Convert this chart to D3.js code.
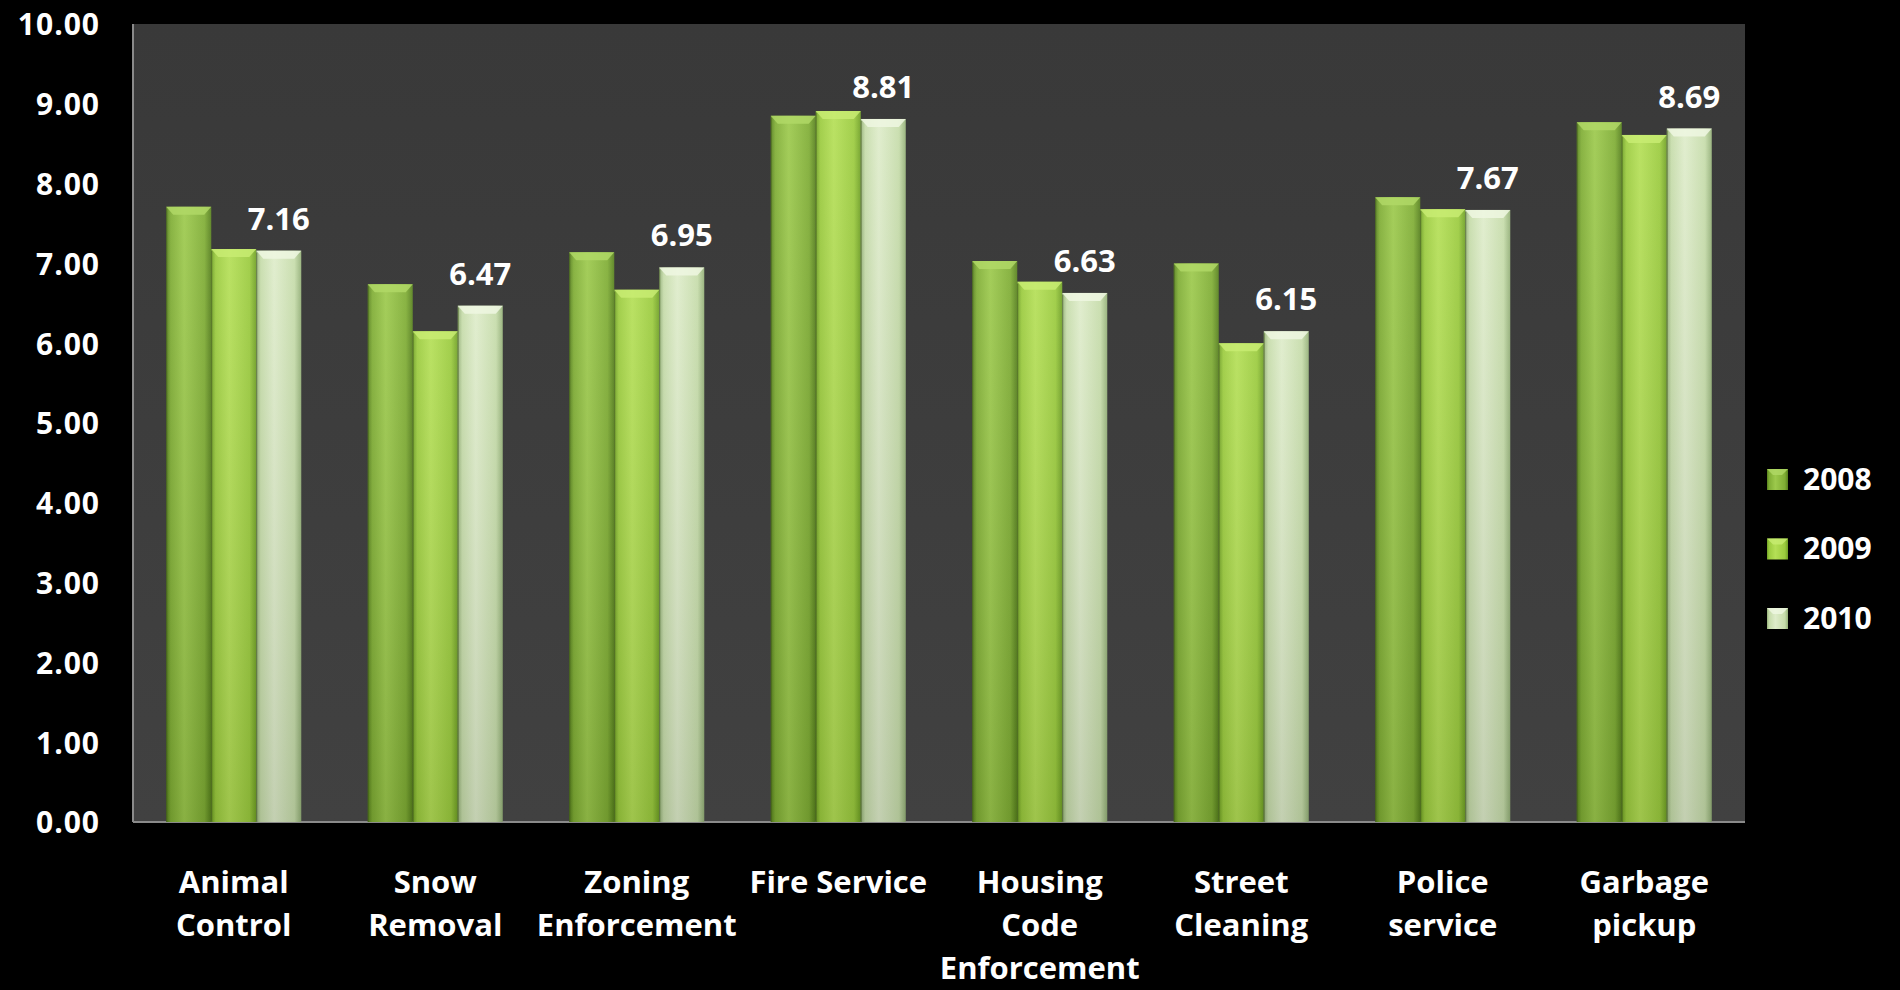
<!DOCTYPE html>
<html>
<head>
<meta charset="utf-8">
<script src="https://cdn.jsdelivr.net/npm/d3@7"></script>
<style>
  html, body { margin: 0; padding: 0; background: #000; }
  svg { display: block; }
  text { font-family: "Open Sans", "Lato", sans-serif; font-weight: 700; fill: #ffffff; }
</style>
</head>
<body>
<svg id="chart" width="1900" height="990"></svg>
<script>
// ---------- data ----------
const categories = [
  "Animal\nControl",
  "Snow\nRemoval",
  "Zoning\nEnforcement",
  "Fire Service",
  "Housing\nCode\nEnforcement",
  "Street\nCleaning",
  "Police\nservice",
  "Garbage\npickup"
];
const seriesNames = ["2008", "2009", "2010"];
const values2008 = [7.71, 6.74, 7.14, 8.85, 7.03, 7.00, 7.83, 8.77];
const values2009 = [7.18, 6.15, 6.67, 8.91, 6.77, 6.00, 7.68, 8.61];
const values2010 = [7.16, 6.47, 6.95, 8.81, 6.63, 6.15, 7.67, 8.69];
const yTicks = [0, 1, 2, 3, 4, 5, 6, 7, 8, 9, 10];
const labeledSeries = "2010";

// ---------- layout ----------
const svg = d3.select("#chart");
const plot = { left: 133, top: 24, right: 1745, bottom: 822 };

const x0 = d3.scaleBand()
  .domain(categories)
  .range([plot.left, plot.right])
  .paddingInner(0.33)
  .paddingOuter(0.165);
const x1 = d3.scaleBand()
  .domain(seriesNames)
  .range([0, x0.bandwidth()])
  .padding(0);
const y = d3.scaleLinear().domain([0, 10]).range([plot.bottom, plot.top]);

const seriesValues = { "2008": values2008, "2009": values2009, "2010": values2010 };
const palette = {
  "2008": { edge: "#56801c", mid: "#7fad34", hi: "#9cc94c", cap: "#b0d866" },
  "2009": { edge: "#6fa024", mid: "#9bcb3e", hi: "#b4df56", cap: "#c8ec72" },
  "2010": { edge: "#94b078", mid: "#c6dcaa", hi: "#deecca", cap: "#eff7e2" }
};

// ---------- gradients ----------
const defs = svg.append("defs");
seriesNames.forEach(s => {
  const c = palette[s];
  const g = defs.append("linearGradient").attr("id", "g" + s)
    .attr("x1", "0%").attr("x2", "100%").attr("y1", "0%").attr("y2", "0%");
  g.append("stop").attr("offset", "0%").attr("stop-color", c.edge);
  g.append("stop").attr("offset", "10%").attr("stop-color", c.mid);
  g.append("stop").attr("offset", "40%").attr("stop-color", c.hi);
  g.append("stop").attr("offset", "85%").attr("stop-color", c.mid);
  g.append("stop").attr("offset", "100%").attr("stop-color", c.edge);
});
const shade = defs.append("linearGradient").attr("id", "vshade")
  .attr("x1", "0%").attr("x2", "0%").attr("y1", "0%").attr("y2", "100%");
shade.append("stop").attr("offset", "0%").attr("stop-color", "#ffffff").attr("stop-opacity", 0.08);
shade.append("stop").attr("offset", "100%").attr("stop-color", "#000000").attr("stop-opacity", 0.12);

const bg = defs.append("linearGradient").attr("id", "bgGrad")
  .attr("x1", "0%").attr("x2", "0%").attr("y1", "0%").attr("y2", "100%");
bg.append("stop").attr("offset", "0%").attr("stop-color", "#393939");
bg.append("stop").attr("offset", "100%").attr("stop-color", "#414141");

// ---------- plot area ----------
svg.append("rect")
  .attr("x", plot.left).attr("y", plot.top)
  .attr("width", plot.right - plot.left).attr("height", plot.bottom - plot.top)
  .attr("fill", "url(#bgGrad)");
svg.append("line")
  .attr("x1", plot.left).attr("x2", plot.left)
  .attr("y1", plot.top).attr("y2", plot.bottom)
  .attr("stroke", "#8a8a8a").attr("stroke-width", 2);
svg.append("line")
  .attr("x1", plot.left).attr("x2", plot.right)
  .attr("y1", plot.bottom).attr("y2", plot.bottom)
  .attr("stroke", "#8a8a8a").attr("stroke-width", 2);

// ---------- bars ----------
const groups = svg.append("g").selectAll("g")
  .data(categories)
  .join("g")
  .attr("transform", d => `translate(${x0(d)},0)`);

const barData = (cat, i) => seriesNames.map(s => ({ s, v: seriesValues[s][i] }));

groups.each(function (cat, i) {
  const g = d3.select(this);
  const data = barData(cat, i);
  const bw = x1.bandwidth();

  g.selectAll("rect.bar").data(data).join("rect")
    .attr("class", "bar")
    .attr("x", d => x1(d.s))
    .attr("y", d => y(d.v))
    .attr("width", bw)
    .attr("height", d => y(0) - y(d.v))
    .attr("fill", d => "url(#g" + d.s + ")");

  g.selectAll("rect.shade").data(data).join("rect")
    .attr("class", "shade")
    .attr("x", d => x1(d.s))
    .attr("y", d => y(d.v))
    .attr("width", bw)
    .attr("height", d => y(0) - y(d.v))
    .attr("fill", "url(#vshade)");

  // beveled top cap
  const bev = 8, inset = 7;
  g.selectAll("path.cap").data(data).join("path")
    .attr("class", "cap")
    .attr("d", d => {
      const xa = x1(d.s), xb = xa + bw, yt = y(d.v);
      return `M${xa},${yt}L${xb},${yt}L${xb - inset},${yt + bev}L${xa + inset},${yt + bev}Z`;
    })
    .attr("fill", d => palette[d.s].cap)
    .attr("opacity", 0.85);

  // thin dark separators
  g.selectAll("line.sep").data(data).join("line")
    .attr("class", "sep")
    .attr("x1", d => x1(d.s) + 0.5).attr("x2", d => x1(d.s) + 0.5)
    .attr("y1", d => y(d.v) + 2).attr("y2", y(0))
    .attr("stroke", "#3f5a1a").attr("stroke-opacity", 0.55).attr("stroke-width", 1);

  // value labels on 2010 only
  g.selectAll("text.val").data(data.filter(d => d.s === labeledSeries)).join("text")
    .attr("class", "val")
    .attr("x", d => x1(d.s) + bw / 2)
    .attr("y", d => y(d.v) - 21)
    .attr("text-anchor", "middle")
    .attr("font-size", 31)
    .text(d => d3.format(".2f")(d.v));
});

// ---------- y axis ----------
const yAxis = svg.append("g")
  .attr("transform", `translate(${plot.left},0)`)
  .call(d3.axisLeft(y).tickValues(yTicks).tickFormat(d3.format(".2f")).tickSize(0).tickPadding(33));
yAxis.select(".domain").remove();
yAxis.selectAll("text")
  .attr("fill", "#ffffff")
  .attr("font-size", 30)
  .attr("font-family", "'Open Sans', sans-serif")
  .attr("font-weight", 700)
  .attr("letter-spacing", 1)
  .attr("dy", "0.36em");

// ---------- x axis labels ----------
const xLab = svg.append("g").selectAll("text")
  .data(categories)
  .join("text")
  .attr("x", d => x0(d) + x0.bandwidth() / 2)
  .attr("y", 893)
  .attr("text-anchor", "middle")
  .attr("font-size", 31);
xLab.selectAll("tspan")
  .data(d => d.split("\n"))
  .join("tspan")
  .attr("x", function () { return d3.select(this.parentNode).attr("x"); })
  .attr("dy", (d, i) => i === 0 ? 0 : 43)
  .text(d => d);

// ---------- legend ----------
const legendY = d3.scalePoint().domain(seriesNames).range([479, 618]);
const leg = svg.append("g").selectAll("g")
  .data(seriesNames)
  .join("g")
  .attr("transform", d => `translate(1767,${legendY(d)})`);
leg.append("rect")
  .attr("x", 0).attr("y", -10).attr("width", 21).attr("height", 21)
  .attr("fill", d => "url(#g" + d + ")");
leg.append("path")
  .attr("d", "M0,-10L21,-10L15,-4L6,-4Z")
  .attr("fill", d => palette[d].cap).attr("opacity", 0.8);
leg.append("text")
  .attr("x", 36).attr("y", 0).attr("dy", "0.36em")
  .attr("font-size", 30)
  .text(d => d);
</script>
</body>
</html>
